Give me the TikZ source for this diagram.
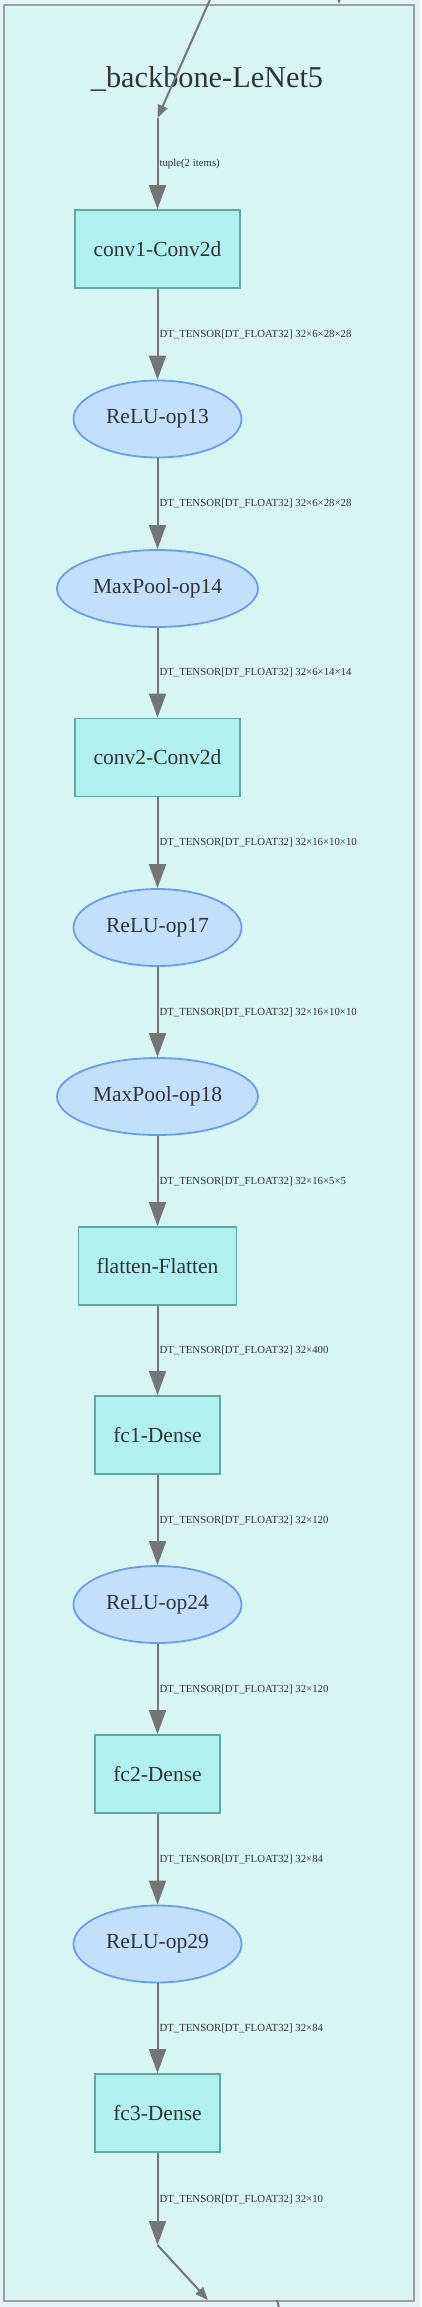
\documentclass[tikz,border=0pt]{standalone}
\usepackage{fontspec}
\setmainfont{Liberation Serif}
\usetikzlibrary{arrows.meta,shapes.geometric}
\definecolor{bgout}{HTML}{E2F4F4}
\definecolor{clfill}{HTML}{D6F5F3}
\definecolor{clborder}{HTML}{A0A0A0}
\definecolor{boxfill}{HTML}{B0F0EE}
\definecolor{boxdraw}{HTML}{5FA8A8}
\definecolor{ellfill}{HTML}{C2E0FC}
\definecolor{elldraw}{HTML}{6A9EE8}
\definecolor{edgecol}{HTML}{757575}
\definecolor{txt}{HTML}{333333}
\begin{document}
\begin{tikzpicture}[x=1pt,y=-1pt,
  layerbox/.style={rectangle, draw=boxdraw, fill=boxfill, line width=1.8pt, inner sep=0pt,
    text=txt, font=\fontsize{21.5}{24}\selectfont, minimum height=78pt},
  opell/.style={ellipse, draw=elldraw, fill=ellfill, line width=1.8pt, inner sep=0pt,
    text=txt, font=\fontsize{21.5}{24}\selectfont, minimum height=77pt},
  flow/.style={draw=edgecol, line width=2pt, -{Triangle[length=24pt,width=17pt]}},
  thinflow/.style={draw=edgecol, line width=2pt, -{Triangle[length=13pt,width=10pt]}},
  elabel/.style={text=txt, font=\fontsize{10.8}{12}\selectfont, anchor=west, inner sep=0pt, xshift=1pt}
]
\useasboundingbox (0,0) rectangle (421,2307);
\fill[bgout] (0,0) rectangle (421,2307);
\clip (0,0) rectangle (421,2307);

\node[draw=clborder, fill=clfill, line width=2pt, inner sep=0pt, anchor=north west,
  minimum width=410pt, minimum height=2296pt] (cluster) at (3,4) {};
\node[text=txt, font=\fontsize{30.3}{34}\selectfont, inner sep=0pt, anchor=base] (title) at (207,87) {\_backbone-LeNet5};

\node[layerbox, minimum width=165pt] (conv1) at (157.5,249) {conv1-Conv2d};
\node[opell, minimum width=168pt] (relu13) at (157.5,419) {ReLU-op13};
\node[opell, minimum width=201pt] (mp14) at (157.5,588.5) {MaxPool-op14};
\node[layerbox, minimum width=165pt] (conv2) at (157.5,757.5) {conv2-Conv2d};
\node[opell, minimum width=168pt] (relu17) at (157.5,927.5) {ReLU-op17};
\node[opell, minimum width=201pt] (mp18) at (157.5,1096.5) {MaxPool-op18};
\node[layerbox, minimum width=158pt] (flatten) at (157.5,1266) {flatten-Flatten};
\node[layerbox, minimum width=125pt] (fc1) at (157.5,1435) {fc1-Dense};
\node[opell, minimum width=168pt] (relu24) at (157.5,1604.5) {ReLU-op24};
\node[layerbox, minimum width=125pt] (fc2) at (157.5,1774) {fc2-Dense};
\node[opell, minimum width=168pt] (relu29) at (157.5,1944) {ReLU-op29};
\node[layerbox, minimum width=125pt] (fc3) at (157.5,2113) {fc3-Dense};

\coordinate (srcA) at (211.6,-4);
\coordinate (topin) at (157.5,118);
\coordinate (trA) at (339.5,-14);
\coordinate (trB) at (339,4);
\coordinate (botout) at (157.5,2245);
\coordinate (sinkA) at (208,2300);
\coordinate (exitA) at (277,2300);
\coordinate (exitB) at (280,2312);

\draw[thinflow] (srcA) -- (topin);
\draw[thinflow] (trA) -- (trB);
\draw[flow] (topin) -- node[elabel, midway] {tuple(2 items)} (conv1);
\draw[flow] (conv1) -- node[elabel, midway] {DT\_TENSOR[DT\_FLOAT32] 32×6×28×28} (relu13);
\draw[flow] (relu13) -- node[elabel, midway] {DT\_TENSOR[DT\_FLOAT32] 32×6×28×28} (mp14);
\draw[flow] (mp14) -- node[elabel, midway] {DT\_TENSOR[DT\_FLOAT32] 32×6×14×14} (conv2);
\draw[flow] (conv2) -- node[elabel, midway] {DT\_TENSOR[DT\_FLOAT32] 32×16×10×10} (relu17);
\draw[flow] (relu17) -- node[elabel, midway] {DT\_TENSOR[DT\_FLOAT32] 32×16×10×10} (mp18);
\draw[flow] (mp18) -- node[elabel, midway] {DT\_TENSOR[DT\_FLOAT32] 32×16×5×5} (flatten);
\draw[flow] (flatten) -- node[elabel, midway] {DT\_TENSOR[DT\_FLOAT32] 32×400} (fc1);
\draw[flow] (fc1) -- node[elabel, midway] {DT\_TENSOR[DT\_FLOAT32] 32×120} (relu24);
\draw[flow] (relu24) -- node[elabel, midway] {DT\_TENSOR[DT\_FLOAT32] 32×120} (fc2);
\draw[flow] (fc2) -- node[elabel, midway] {DT\_TENSOR[DT\_FLOAT32] 32×84} (relu29);
\draw[flow] (relu29) -- node[elabel, midway] {DT\_TENSOR[DT\_FLOAT32] 32×84} (fc3);
\draw[flow] (fc3) -- node[elabel, midway] {DT\_TENSOR[DT\_FLOAT32] 32×10} (botout);
\draw[thinflow] (botout) -- (sinkA);
\draw[draw=edgecol, line width=2pt] (exitA) -- (exitB);
\end{tikzpicture}
\end{document}
